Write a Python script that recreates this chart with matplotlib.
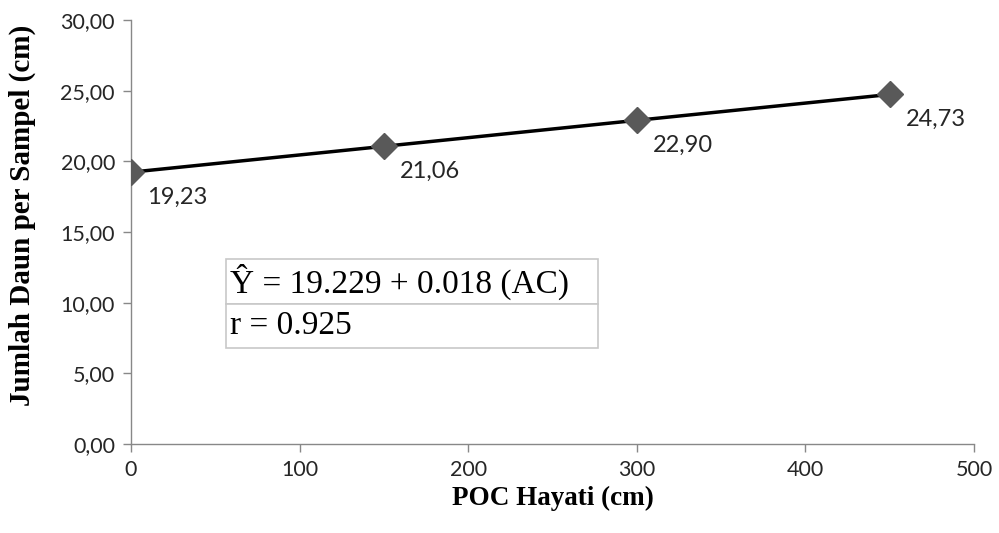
import matplotlib
matplotlib.use('Agg')
from matplotlib import pyplot as plt

# data
poc_dose = [0, 150, 300, 450]
leaf_count = [19.23, 21.06, 22.90, 24.73]
point_labels = ['19,23', '21,06', '22,90', '24,73']
x_ticks = [0, 100, 200, 300, 400, 500]
y_ticks = [0, 5, 10, 15, 20, 25, 30]
equation_rows = [[u'Ŷ = 19.229 + 0.018 (AC)'], ['r = 0.925']]

tick_font = 'Lato'
serif_font = 'Liberation Serif'
axis_grey = '#888888'

fig = plt.figure(figsize=(9.99, 5.33), dpi=100)
ax = fig.add_axes([0.131, 0.167, 0.844, 0.7955])

ax.plot(poc_dose, leaf_count, color='black', linewidth=2.5, zorder=2)
ax.plot(poc_dose, leaf_count, linestyle='none', marker='D', markersize=13,
        color='#595959', zorder=3)

for x, y, lab in zip(poc_dose, leaf_count, point_labels):
    ax.annotate(lab, (x, y), xytext=(11.5, -18), textcoords='offset points',
                fontsize=17, family=tick_font, color='#262626', va='center', ha='left')

ax.set_xlim(0, 500)
ax.set_ylim(0, 30)
ax.set_xticks(x_ticks)
ax.set_yticks(y_ticks)
ax.set_yticklabels([('%.2f' % v).replace('.', ',') for v in y_ticks])

for side in ['top', 'right']:
    ax.spines[side].set_visible(False)
for side in ['left', 'bottom']:
    ax.spines[side].set_color(axis_grey)
    ax.spines[side].set_linewidth(1.0)
ax.tick_params(axis='both', colors=axis_grey, length=5.5, width=1.0, labelsize=15.5,
               labelcolor='#262626', pad=6)
for lab in ax.get_xticklabels() + ax.get_yticklabels():
    lab.set_family(tick_font)

ax.set_xlabel('POC Hayati (cm)', family=serif_font, fontweight='bold', fontsize=19.5,
              labelpad=4)
ax.set_ylabel('Jumlah Daun per Sampel (cm)', family=serif_font, fontweight='bold',
              fontsize=21)
ax.yaxis.set_label_coords(-0.113, 0.54)

tbl = ax.table(cellText=equation_rows, cellLoc='left',
               bbox=[0.113, 0.226, 0.441, 0.210])
tbl.auto_set_font_size(False)
for cell in tbl.get_celld().values():
    cell.set_edgecolor('#c8c8c8')
    cell.set_linewidth(1.2)
    cell.get_text().set_fontsize(24)
    cell.get_text().set_family(serif_font)
    cell.PAD = 0.01

fig.savefig('out.png', dpi=100)
